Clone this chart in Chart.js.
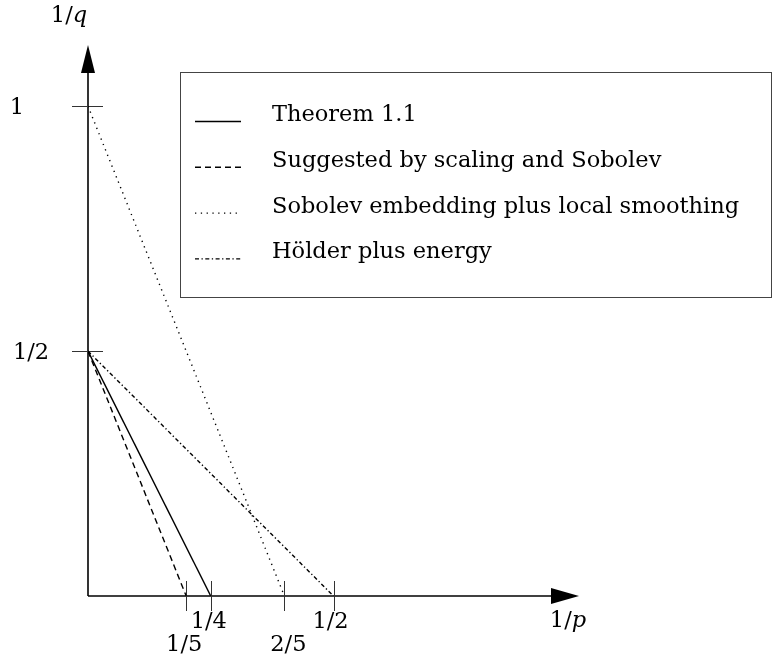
<!DOCTYPE html>
<html><head><meta charset="utf-8">
<script src="https://cdn.jsdelivr.net/npm/chart.js@4"></script>
<style>html,body{margin:0;padding:0;background:#fff}canvas{display:block}</style>
</head><body>
<canvas id="c" width="773" height="661"></canvas>
<script>
// ---- data ----
const seriesNames = ['Theorem 1.1', 'Suggested by scaling and Sobolev', 'Sobolev embedding plus local smoothing', 'Hölder plus energy'];
const theoremX = [0, 0.25], theoremY = [0.5, 0];
const scalingX = [0, 0.2],  scalingY = [0.5, 0];
const sobolevX = [0, 0.4],  sobolevY = [1, 0];
const holderX  = [0, 0.5],  holderY  = [0.5, 0];
const xTickValues = [0.2, 0.25, 0.4, 0.5];
const xTickLabels = ['1/5', '1/4', '2/5', '1/2'];
const yTickValues = [0.5, 1];
const yTickLabels = ['1/2', '1'];
const xAxisTitle = ['1/', 'p'];
const yAxisTitle = ['1/', 'q'];

// ---- styles ----
const FONT = '"DejaVu Serif", serif';
const FS = 22.5;
const dashes = [[], [6, 4], [1.3, 4.5], [4, 2.5, 1.3, 2.5]];
const xLabelRow = [1, 0, 1, 0];        // staggered rows
const xLabelDx = [-2, -2, 4, -3];

function pts(xs, ys) { return xs.map((x, i) => ({ x: x, y: ys[i] })); }
const seriesData = [pts(theoremX, theoremY), pts(scalingX, scalingY), pts(sobolevX, sobolevY), pts(holderX, holderY)];

function drawMath(ctx, parts, cx, baseline) {
  ctx.font = FS + 'px ' + FONT;
  const w1 = ctx.measureText(parts[0]).width;
  ctx.font = 'italic ' + FS + 'px ' + FONT;
  const w2 = ctx.measureText(parts[1]).width;
  const x0 = cx - (w1 + w2) / 2;
  ctx.textAlign = 'left'; ctx.textBaseline = 'alphabetic';
  ctx.font = FS + 'px ' + FONT;
  ctx.fillText(parts[0], x0, baseline);
  ctx.font = 'italic ' + FS + 'px ' + FONT;
  ctx.fillText(parts[1], x0 + w1, baseline);
}

const axesPlugin = {
  id: 'axesPlugin',
  beforeDatasetsDraw(chart) {
    const ctx = chart.ctx, xs = chart.scales.x, ys = chart.scales.y;
    const ox = xs.getPixelForValue(0), oy = ys.getPixelForValue(0);
    const xt = xs.getPixelForValue(xs.max), yt = ys.getPixelForValue(ys.max);
    ctx.save();
    ctx.strokeStyle = '#000'; ctx.fillStyle = '#000'; ctx.lineWidth = 1.6;
    // x axis
    ctx.beginPath(); ctx.moveTo(ox, oy); ctx.lineTo(xt - 26, oy); ctx.stroke();
    ctx.beginPath(); ctx.moveTo(xt, oy); ctx.lineTo(xt - 28, oy - 8); ctx.lineTo(xt - 28, oy + 8); ctx.closePath(); ctx.fill();
    // y axis
    ctx.beginPath(); ctx.moveTo(ox, oy); ctx.lineTo(ox, yt + 26); ctx.stroke();
    ctx.beginPath(); ctx.moveTo(ox, yt); ctx.lineTo(ox - 7, yt + 28); ctx.lineTo(ox + 7, yt + 28); ctx.closePath(); ctx.fill();
    // ticks
    ctx.lineWidth = 1; ctx.strokeStyle = '#333';
    xTickValues.forEach(v => {
      const px = Math.round(xs.getPixelForValue(v)) + 0.5;
      ctx.beginPath(); ctx.moveTo(px, oy - 15); ctx.lineTo(px, oy + 15); ctx.stroke();
    });
    yTickValues.forEach(v => {
      const py = Math.round(ys.getPixelForValue(v)) + 0.5;
      ctx.beginPath(); ctx.moveTo(ox - 16, py); ctx.lineTo(ox + 15, py); ctx.stroke();
    });
    // tick labels
    ctx.fillStyle = '#000';
    ctx.font = FS + 'px ' + FONT;
    ctx.textAlign = 'center'; ctx.textBaseline = 'alphabetic';
    xTickValues.forEach((v, i) => {
      const px = xs.getPixelForValue(v) + xLabelDx[i];
      ctx.fillText(xTickLabels[i], px, oy + (xLabelRow[i] ? 55 : 32));
    });
    yTickValues.forEach((v, i) => {
      const py = ys.getPixelForValue(v);
      ctx.fillText(yTickLabels[i], yTickLabels[i].length > 1 ? 31 : 17, py + 8);
    });
    // axis titles
    drawMath(ctx, xAxisTitle, xt - 11, oy + 31);
    drawMath(ctx, yAxisTitle, ox - 19, 22);
    ctx.restore();
  },
  afterDraw(chart) {
    const ctx = chart.ctx;
    ctx.save();
    ctx.strokeStyle = '#444'; ctx.lineWidth = 1;
    ctx.strokeRect(180.5, 72.5, 591, 225);
    ctx.fillStyle = '#000';
    ctx.font = FS + 'px ' + FONT;
    ctx.textAlign = 'left'; ctx.textBaseline = 'alphabetic';
    chart.data.datasets.forEach((ds, i) => {
      const base = 121 + i * 45.8;
      ctx.strokeStyle = '#000'; ctx.lineWidth = 1.4;
      ctx.setLineDash(ds.borderDash || []);
      ctx.beginPath(); ctx.moveTo(195, base + 0.5); ctx.lineTo(241, base + 0.5); ctx.stroke();
      ctx.setLineDash([]);
      ctx.fillText(ds.label, 272, base);
    });
    ctx.restore();
  }
};

new Chart(document.getElementById('c'), {
  type: 'scatter',
  data: {
    datasets: seriesNames.map((n, i) => ({
      label: n,
      data: seriesData[i],
      showLine: true,
      pointRadius: 0,
      borderColor: '#000',
      borderWidth: 1.4,
      borderDash: dashes[i],
      fill: false
    }))
  },
  options: {
    responsive: false,
    animation: false,
    devicePixelRatio: 1,
    layout: { padding: { left: 88, right: 194, top: 45, bottom: 65 } },
    scales: {
      x: { type: 'linear', min: 0, max: 1, display: false },
      y: { type: 'linear', min: 0, max: 1.125, display: false }
    },
    plugins: { legend: { display: false }, tooltip: { enabled: false } }
  },
  plugins: [axesPlugin]
});
</script>
</body></html>
